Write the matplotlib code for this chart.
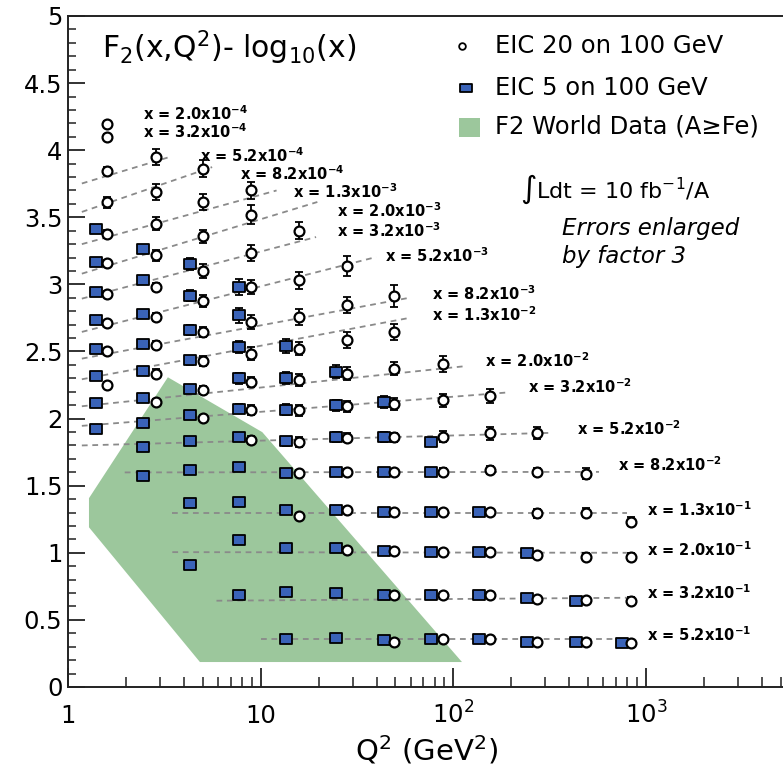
import numpy as np
import matplotlib
matplotlib.use("Agg")
import matplotlib.pyplot as plt
from matplotlib.path import Path
from matplotlib.patches import Polygon, Rectangle
from matplotlib.ticker import FixedLocator, FixedFormatter, MultipleLocator, NullFormatter

plt.rcParams['font.family'] = ['DejaVu Sans']
plt.rcParams['mathtext.fontset'] = 'dejavusans'

# ---------------------------------------------------------------- data
# Bjorken-x bins (label mantissa / exponent)
x_mant = ["2.0", "3.2", "5.2", "8.2", "1.3", "2.0", "3.2", "5.2", "8.2",
          "1.3", "2.0", "3.2", "5.2", "8.2", "1.3", "2.0", "3.2", "5.2"]
x_exp = [-4, -4, -4, -4, -3, -3, -3, -3, -3,
         -2, -2, -2, -2, -2, -1, -1, -1, -1]

# Q^2 bin centres (GeV^2) where each data set is plotted
q2_eic5 = [1.4, 2.45, 4.3, 7.7, 13.6, 24.5, 43.5, 77, 136, 242, 433, 750]
q2_eic20 = [1.6, 2.85, 5.0, 8.9, 15.8, 28, 49.5, 88, 155, 272, 490, 840]

# EIC 20 on 100 GeV : first Q^2 bin index, F2 - log10(x), error
eic20_first = [0, 0, 0, 0, 0, 0, 0, 0, 0, 0, 1, 2, 3, 4, 4, 5, 6, 6]
eic20_f2 = [
    [4.197],
    [4.098],
    [3.845, 3.949],
    [3.611, 3.688, 3.862],
    [3.378, 3.453, 3.614, 3.700],
    [3.160, 3.217, 3.358, 3.520],
    [2.930, 2.980, 3.100, 3.234, 3.400],
    [2.710, 2.757, 2.874, 2.980, 3.030, 3.140],
    [2.500, 2.546, 2.646, 2.720, 2.760, 2.844, 2.915],
    [2.250, 2.336, 2.430, 2.485, 2.522, 2.584, 2.645],
    [2.124, 2.210, 2.273, 2.286, 2.336, 2.373, 2.410],
    [2.005, 2.063, 2.063, 2.092, 2.112, 2.137, 2.168],
    [1.839, 1.827, 1.859, 1.860, 1.866, 1.889, 1.895],
    [1.591, 1.603, 1.603, 1.600, 1.616, 1.603, 1.590],
    [1.277, 1.318, 1.305, 1.305, 1.305, 1.293, 1.300, 1.231],
    [1.020, 1.010, 1.008, 1.008, 0.983, 0.970, 0.966],
    [0.685, 0.685, 0.685, 0.653, 0.648, 0.643],
    [0.337, 0.355, 0.355, 0.337, 0.337, 0.330],
]
eic20_err = [
    [0.02],
    [0.02],
    [0.03, 0.06],
    [0.04, 0.06, 0.065],
    [0.03, 0.05, 0.06, 0.066],
    [0.02, 0.04, 0.05, 0.068],
    [0.02, 0.03, 0.05, 0.06, 0.065],
    [0.02, 0.03, 0.045, 0.055, 0.065, 0.075],
    [0.02, 0.03, 0.04, 0.05, 0.06, 0.06, 0.08],
    [0.02, 0.03, 0.035, 0.045, 0.05, 0.06, 0.06],
    [0.02, 0.03, 0.04, 0.045, 0.05, 0.05, 0.06],
    [0.025, 0.035, 0.04, 0.04, 0.045, 0.05, 0.055],
    [0.03, 0.035, 0.035, 0.035, 0.04, 0.045, 0.045],
    [0.025, 0.025, 0.025, 0.03, 0.03, 0.03, 0.04],
    [0.02, 0.02, 0.02, 0.02, 0.02, 0.03, 0.035, 0.035],
    [0.02, 0.02, 0.02, 0.02, 0.025, 0.025, 0.03],
    [0.02, 0.02, 0.02, 0.02, 0.025, 0.025],
    [0.02, 0.02, 0.02, 0.02, 0.02, 0.02],
]

# EIC 5 on 100 GeV (bins below x = 1.3e-3 are empty)
eic5_first = [None, None, None, None, 0, 0, 0, 0, 0, 0, 0, 0, 1, 1, 2, 2, 3, 4]
eic5_f2 = [
    [], [], [], [],
    [3.410],
    [3.170, 3.266],
    [2.944, 3.036, 3.155],
    [2.733, 2.777, 2.915, 2.980],
    [2.518, 2.559, 2.660, 2.770],
    [2.316, 2.355, 2.433, 2.532, 2.540],
    [2.115, 2.157, 2.224, 2.300, 2.300, 2.350],
    [1.926, 1.965, 2.025, 2.075, 2.066, 2.100, 2.124],
    [1.790, 1.830, 1.864, 1.830, 1.864, 1.864, 1.827],
    [1.575, 1.616, 1.636, 1.594, 1.603, 1.603, 1.603],
    [1.368, 1.380, 1.320, 1.318, 1.305, 1.305, 1.305],
    [0.908, 1.092, 1.033, 1.033, 1.010, 1.008, 1.008, 1.000],
    [0.685, 0.706, 0.700, 0.685, 0.685, 0.685, 0.660, 0.643],
    [0.360, 0.363, 0.352, 0.355, 0.355, 0.337, 0.337, 0.325],
]
eic5_err = [
    [], [], [], [],
    [0.02],
    [0.02, 0.025],
    [0.02, 0.025, 0.045],
    [0.02, 0.025, 0.04, 0.06],
    [0.02, 0.025, 0.035, 0.055],
    [0.02, 0.025, 0.035, 0.045, 0.05],
    [0.02, 0.025, 0.03, 0.04, 0.045, 0.05],
    [0.02, 0.025, 0.03, 0.035, 0.04, 0.04, 0.045],
    [0.025, 0.025, 0.03, 0.035, 0.035, 0.035, 0.02],
    [0.025, 0.03, 0.03, 0.03, 0.03, 0.03, 0.03],
    [0.02, 0.02, 0.02, 0.02, 0.02, 0.02, 0.02],
    [0.02, 0.02, 0.02, 0.02, 0.02, 0.02, 0.02, 0.02],
    [0.02, 0.02, 0.02, 0.02, 0.02, 0.02, 0.02, 0.02],
    [0.02, 0.02, 0.02, 0.02, 0.02, 0.02, 0.02, 0.02],
]

# straight-line fits in log Q^2 for each x bin: Q^2 range and end values
fit_q2_lo = [None, None, 1.18, 1.18, 1.18, 1.18, 1.18, 1.18, 1.18,
             1.18, 1.18, 1.18, 1.18, 1.97, 3.48, 3.48, 5.9, 10.0]
fit_q2_hi = [None, None, 3.38, 5.6, 12.1, 19.7, 19.4, 39.8, 59,
             59, 114, 192, 325, 571, 796, 796, 796, 796]
fit_y_lo = [None, None, 3.752, 3.540, 3.300, 3.080, 2.894, 2.646, 2.447,
            2.293, 2.092, 1.946, 1.800, 1.599, 1.293, 1.005, 0.643, 0.355]
fit_y_hi = [None, None, 3.950, 3.874, 3.700, 3.614, 3.353, 3.204, 2.900,
            2.750, 2.390, 2.195, 1.894, 1.603, 1.293, 1.000, 0.665, 0.355]

# where each x-bin label sits (Q^2, F2 - log10 x)
label_q2 = [2.45, 2.45, 4.84, 7.81, 14.7, 24.9, 24.9, 44.2, 77.4,
            77.4, 146, 244, 438, 715, 1010, 1010, 1010, 1010]
label_y = [4.274, 4.135, 3.961, 3.827, 3.688, 3.552, 3.403, 3.216, 2.934,
           2.778, 2.435, 2.236, 1.926, 1.660, 1.318, 1.020, 0.701, 0.387]

# outline of the existing world data (A >= Fe)
world_q2 = [1.285, 1.285, 3.30, 10.2, 111, 4.84]
world_y = [1.19, 1.407, 2.308, 1.899, 0.186, 0.186]

y_ticks = [0, 0.5, 1, 1.5, 2, 2.5, 3, 3.5, 4, 4.5, 5]
y_tick_labels = ["0", "0.5", "1", "1.5", "2", "2.5", "3", "3.5", "4", "4.5", "5"]
x_ticks = [1, 10, 100, 1000]
x_tick_labels = ["1", "10", "$10^2$", "$10^3$"]

# ---------------------------------------------------------------- style
BLUE = "#3a63b8"
GREEN = "#9cc79c"
GREY = "#8a8a8a"

rect_marker = Path([(-0.6, -0.5), (0.6, -0.5), (0.6, 0.5), (-0.6, 0.5), (-0.6, -0.5)],
                   [Path.MOVETO, Path.LINETO, Path.LINETO, Path.LINETO, Path.CLOSEPOLY])
flat_marker = Path([(-0.75, -0.45), (0.75, -0.45), (0.75, 0.45), (-0.75, 0.45), (-0.75, -0.45)],
                   [Path.MOVETO, Path.LINETO, Path.LINETO, Path.LINETO, Path.CLOSEPOLY])

fig = plt.figure(figsize=(7.83, 7.75), dpi=100)
ax = fig.add_axes([68 / 783, 88 / 775, 715 / 783, 671 / 775])
ax.set_xscale("log")
ax.set_xlim(1, 5150)
ax.set_ylim(0, 5)

# world-data band
ax.add_patch(Polygon(np.column_stack([world_q2, world_y]), closed=True,
                     facecolor=GREEN, edgecolor="none", zorder=1))

# fit lines
for i in range(len(x_mant)):
    if fit_q2_lo[i] is None:
        continue
    ax.plot([fit_q2_lo[i], fit_q2_hi[i]], [fit_y_lo[i], fit_y_hi[i]],
            color=GREY, lw=1.3, linestyle=(0, (3.2, 2.6)), zorder=2)

# EIC 5 on 100 GeV
for i in range(len(x_mant)):
    if eic5_first[i] is None:
        continue
    n = len(eic5_f2[i])
    q = q2_eic5[eic5_first[i]:eic5_first[i] + n]
    ax.errorbar(q, eic5_f2[i], yerr=eic5_err[i], fmt="none", ecolor="black",
                elinewidth=1.3, capsize=2.6, capthick=1.3, zorder=3)
    ax.plot(q, eic5_f2[i], linestyle="none", marker=rect_marker, ms=8.4,
            mfc=BLUE, mec="black", mew=1.3, zorder=3.5)

# EIC 20 on 100 GeV
for i in range(len(x_mant)):
    n = len(eic20_f2[i])
    q = q2_eic20[eic20_first[i]:eic20_first[i] + n]
    ax.errorbar(q, eic20_f2[i], yerr=eic20_err[i], fmt="none", ecolor="black",
                elinewidth=1.3, capsize=2.6, capthick=1.3, zorder=4)
    ax.plot(q, eic20_f2[i], linestyle="none", marker="o", ms=7.1,
            mfc="white", mec="black", mew=1.6, zorder=4.5)

# x-bin labels
for i in range(len(x_mant)):
    ax.text(label_q2[i], label_y[i],
            "x = %sx10$^{\\mathbf{%d}}$" % (x_mant[i], x_exp[i]),
            fontsize=10.5, fontweight="bold", ha="left", va="center", zorder=6)

# axes styling
for side in ("left", "bottom", "top"):
    ax.spines[side].set_linewidth(1.4)
    ax.spines[side].set_color("#222222")
ax.spines["right"].set_visible(False)

ax.yaxis.set_major_locator(FixedLocator(y_ticks))
ax.yaxis.set_major_formatter(FixedFormatter(y_tick_labels))
ax.yaxis.set_minor_locator(MultipleLocator(0.1))
ax.xaxis.set_major_locator(FixedLocator(x_ticks))
ax.xaxis.set_major_formatter(FixedFormatter(x_tick_labels))
ax.xaxis.set_minor_formatter(NullFormatter())

ax.tick_params(axis="both", which="both", direction="in", top=False, right=False,
               color="#222222")
ax.tick_params(axis="y", which="major", length=12.5, width=1.3, pad=4, labelsize=17.5)
ax.tick_params(axis="y", which="minor", length=6, width=1.1)
ax.tick_params(axis="x", which="major", length=14, width=1.3, pad=26, labelsize=17.5)
ax.tick_params(axis="x", which="minor", length=7.5, width=1.1)
for lab in ax.get_xticklabels():
    lab.set_verticalalignment("baseline")

ax.set_xlabel("Q$^2$ (GeV$^2$)", fontsize=21, va="center")
ax.xaxis.set_label_coords(0.502, -0.094)

# heading
ax.text(0.0476, 0.937, "F$_2$(x,Q$^2$)- log$_{10}$(x)", transform=ax.transAxes,
        fontsize=21.5, ha="left", va="baseline")

# legend
ax.plot([0.551], [0.9553], transform=ax.transAxes, marker="o", ms=4.8,
        mfc="white", mec="black", mew=1.3, linestyle="none", clip_on=False)
ax.plot([0.557], [0.8927], transform=ax.transAxes, marker=flat_marker, ms=8.6,
        mfc=BLUE, mec="black", mew=1.3, linestyle="none", clip_on=False)
ax.add_patch(Rectangle((0.547, 0.8197), 0.0294, 0.0283, transform=ax.transAxes,
                       facecolor=GREEN, edgecolor="none"))
legend_text = ["EIC 20 on 100 GeV", "EIC 5 on 100 GeV", "F2 World Data (A\u2265Fe)"]
for t, yy in zip(legend_text, [0.9553, 0.8927, 0.8346]):
    ax.text(0.597, yy, t, transform=ax.transAxes, fontsize=17.5,
            ha="left", va="center")

ax.text(0.632, 0.742, "\u222bLdt = 10 fb$^{-1}$/A", transform=ax.transAxes,
        fontsize=16, ha="left", va="center")
ax.text(0.691, 0.684, "Errors enlarged", transform=ax.transAxes, fontsize=16.5,
        style="italic", ha="left", va="center")
ax.text(0.691, 0.641, "by factor 3", transform=ax.transAxes, fontsize=16.5,
        style="italic", ha="left", va="center")

fig.savefig("out.png", dpi=100)
